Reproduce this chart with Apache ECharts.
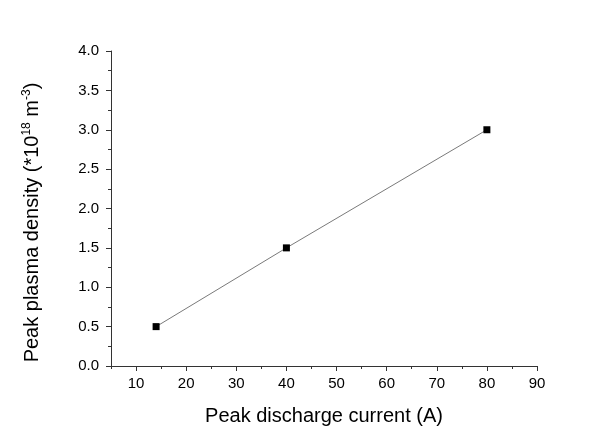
<!DOCTYPE html>
<html>
<head>
<meta charset="utf-8">
<script src="https://cdn.jsdelivr.net/npm/echarts@6/dist/echarts.min.js"></script>
<style>
  html, body { margin: 0; padding: 0; background: #ffffff; }
  #chart { width: 616px; height: 434px; }
</style>
</head>
<body>
<div id="chart"></div>
<script>
// Peak discharge current (A)
const currents = [14, 40, 80];
// Peak plasma density (×10^18 m^-3)
const densities = [0.5, 1.5, 3.0];

// x-axis tick positions
const xMajorTicks = [10, 20, 30, 40, 50, 60, 70, 80, 90];
const xMinorTicks = [5, 15, 25, 35, 45, 55, 65, 75, 85];

const xTitle = 'Peak discharge current (A)';
const yTitle = 'Peak plasma density (*10{sup|18} m{sup|-3})';

const points = currents.map((c, i) => [c, densities[i]]);

const axisColor = '#333333';
const font = 'Liberation Sans, Arial, sans-serif';

const chart = echarts.init(document.getElementById('chart'), null, { renderer: 'canvas' });
chart.setOption({
  backgroundColor: '#ffffff',
  animation: false,
  grid: { left: 111, right: 79, top: 51, bottom: 68, containLabel: false },
  xAxis: [{
    type: 'value',
    min: 5, max: 90,
    position: 'bottom',
    name: xTitle,
    nameLocation: 'middle',
    nameGap: 40,
    nameTextStyle: { fontFamily: font, fontSize: 20, color: '#000' },
    axisLine: { show: true, onZero: false, lineStyle: { color: axisColor, width: 1 } },
    axisTick: { show: true, length: 5, inside: false, customValues: xMajorTicks, lineStyle: { color: axisColor } },
    axisLabel: { fontFamily: font, fontSize: 15, color: '#000', margin: 10, customValues: xMajorTicks },
    splitLine: { show: false }
  }, {
    // minor ticks between the labelled ones
    type: 'value',
    min: 5, max: 90,
    position: 'bottom',
    axisLine: { show: false, onZero: false },
    axisTick: { show: true, length: 3, inside: false, customValues: xMinorTicks, lineStyle: { color: axisColor } },
    axisLabel: { show: false },
    splitLine: { show: false }
  }],
  yAxis: {
    type: 'value',
    min: 0, max: 4, interval: 0.5,
    name: yTitle,
    nameLocation: 'middle',
    nameGap: 68,
    nameRotate: 90,
    nameTextStyle: {
      fontFamily: font, fontSize: 20, color: '#000',
      padding: [0, 28, 0, 0],
      rich: { sup: { fontFamily: font, fontSize: 12, color: '#000', padding: [0, 0, 10, 0] } }
    },
    axisLine: { show: true, onZero: false, lineStyle: { color: axisColor, width: 1 } },
    axisTick: { show: true, length: 5, inside: false, lineStyle: { color: axisColor } },
    minorTick: { show: true, splitNumber: 2, length: 3, lineStyle: { color: axisColor } },
    axisLabel: {
      fontFamily: font, fontSize: 15, color: '#000', margin: 12,
      formatter: v => v.toFixed(1)
    },
    splitLine: { show: false }
  },
  series: [{
    type: 'line',
    xAxisIndex: 0,
    data: points,
    symbol: 'rect',
    symbolSize: 7,
    itemStyle: { color: '#000000' },
    lineStyle: { color: '#7a7a7a', width: 1 }
  }]
});
</script>
</body>
</html>
